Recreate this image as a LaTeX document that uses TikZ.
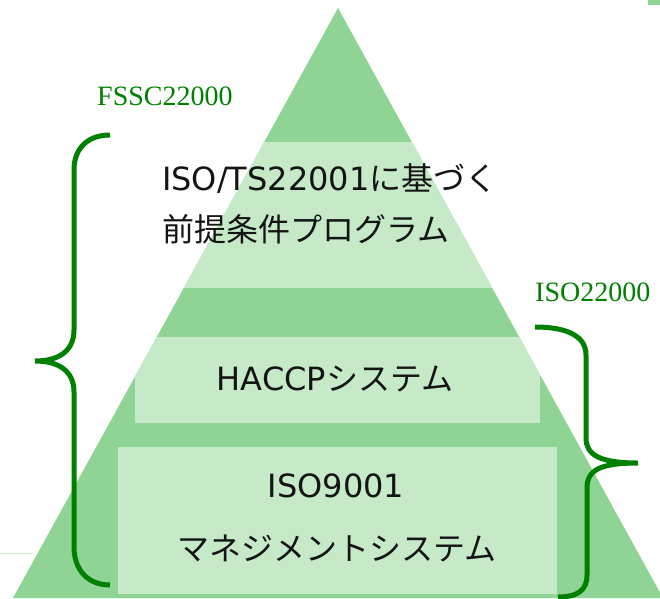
\documentclass[tikz,border=0pt]{standalone}
\usepackage{fontspec}
\setmainfont{Noto Sans CJK JP}
\newfontfamily\latinfont{DejaVu Sans}
\newfontfamily\certfont{Liberation Serif}
\definecolor{pyrdark}{RGB}{143,212,148}
\definecolor{pyrlight}{RGB}{198,234,200}
\definecolor{bracegreen}{RGB}{0,128,0}
\definecolor{textgray}{RGB}{20,20,20}

\begin{document}
\begin{tikzpicture}[x=1pt, y=-1pt,
    layer/.style={fill=pyrlight},
    body/.style={inner sep=0pt, text=textgray,
        font=\fontsize{32}{36}\selectfont},
    certname/.style={inner sep=0pt, text=bracegreen,
        font=\certfont\fontsize{28}{32}\selectfont},
    curly/.style={draw=bracegreen, line width=5pt}
]
    \useasboundingbox (0,0) rectangle (660,598);
    \coordinate (apex) at (338,8);
    \coordinate (bl) at (13,598);
    \coordinate (br) at (663,598);
    \fill[pyrdark] (apex) -- (bl) -- (br) -- cycle;
    \begin{scope}
        \clip (apex) -- (bl) -- (br) -- cycle;
        \fill[layer] (0,142) rectangle (660,288);
        \fill[layer] (135,337) rectangle (540,423);
        \fill[layer] (118,447) rectangle (557,594);
    \end{scope}
    \fill[pyrdark] (648,0) rectangle (660,5);
    \draw[pyrlight, line width=1pt] (0,553) -- (33,553);
    \node[body, anchor=base west] (prp1) at (162,190) {{\latinfont ISO/TS22001}に基づく};
    \node[body, anchor=base west] (prp2) at (162,241) {前提条件プログラム};
    \node[body, anchor=base] (haccp) at (335,390) {{\latinfont HACCP}システム};
    \node[body, anchor=base] (iso9) at (336,497) {\latinfont ISO9001};
    \node[body, anchor=base] (qms) at (337,560) {マネジメントシステム};
    \node[certname, anchor=base west] (fssc) at (97,105) {FSSC22000};
    \node[certname, anchor=base west] (iso22) at (535,301) {ISO22000};
    \coordinate (fsscTop) at (110,135);
    \coordinate (fsscTip) at (35,361);
    \coordinate (fsscEnd) at (110,585);
    \coordinate (isoTop) at (535,327);
    \coordinate (isoTip) at (638,463);
    \coordinate (isoEnd) at (558,597);
    \draw[curly] (fsscTop) .. controls (88,135) and (74,148) .. (74,170)
        -- (74,330) .. controls (74,350) and (60,361) .. (fsscTip)
        .. controls (60,361) and (74,372) .. (74,392)
        -- (74,547) .. controls (74,570) and (88,585) .. (fsscEnd);
    \draw[curly] (isoTop) .. controls (565,327) and (586,335) .. (586,355)
        -- (586,438) .. controls (586,455) and (600,463) .. (isoTip)
        .. controls (600,463) and (587,470) .. (587,488)
        -- (587,575) .. controls (587,590) and (578,597) .. (isoEnd);
\end{tikzpicture}
\end{document}
